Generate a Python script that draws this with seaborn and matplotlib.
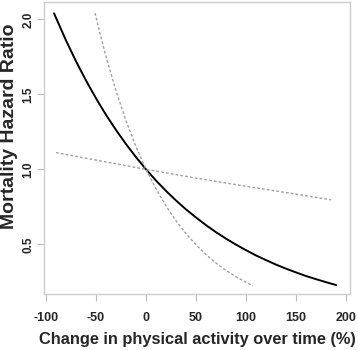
import numpy as np
import pandas as pd
import matplotlib
matplotlib.use("Agg")
import matplotlib.pyplot as plt
import seaborn as sns

# values
solid_x = [-92, -80, -70, -60, -50, -40, -30, -20, -10, 0, 10, 20, 30, 40, 50,
           60, 70, 80, 90, 100, 110, 120, 130, 140, 150, 160, 170, 180, 190]
solid_hr = [2.040, 1.859, 1.720, 1.592, 1.473, 1.363, 1.262, 1.168, 1.081, 1.000,
            0.925, 0.856, 0.792, 0.733, 0.679, 0.628, 0.581, 0.538, 0.498, 0.461,
            0.426, 0.395, 0.365, 0.338, 0.313, 0.289, 0.268, 0.248, 0.229]

steep_x = [-51, -45, -40, -30, -20, -10, 0, 10, 20, 30, 40, 50, 60, 70, 80, 90, 100, 107]
steep_hr = [2.042, 1.878, 1.751, 1.522, 1.323, 1.150, 1.000, 0.869, 0.756, 0.657,
            0.571, 0.497, 0.432, 0.375, 0.326, 0.284, 0.247, 0.224]

flat_x = [-90, -50, 0, 50, 100, 150, 185]
flat_hr = [1.112, 1.062, 1.000, 0.942, 0.887, 0.835, 0.797]

x_ticks = [-100, -50, 0, 50, 100, 150, 200]
y_ticks = [0.5, 1.0, 1.5, 2.0]

sns.set_style("white")
plt.rcParams["font.family"] = ["Liberation Sans", "DejaVu Sans"]

fig = plt.figure(figsize=(3.58, 3.50), dpi=100)
ax = fig.add_axes([0.123, 0.159, 0.855, 0.835])

sns.lineplot(x=solid_x, y=solid_hr, ax=ax, color="black", linewidth=1.4)
sns.lineplot(x=steep_x, y=steep_hr, ax=ax, color="#a0a0a0", linewidth=1.0,
             linestyle=(0, (2.0, 1.5)))
sns.lineplot(x=flat_x, y=flat_hr, ax=ax, color="#a0a0a0", linewidth=1.0,
             linestyle=(0, (2.0, 1.5)))

ax.set_xlim(-102, 204)
ax.set_ylim(0.167, 2.115)
ax.set_xticks(x_ticks)
ax.set_xticklabels([str(v) for v in x_ticks], fontweight="bold", fontsize=9)
ax.set_yticks(y_ticks)
ax.set_yticklabels([f"{v:.1f}" for v in y_ticks], fontweight="bold", fontsize=8.5,
                   rotation=90, va="center")
ax.tick_params(axis="both", direction="out", length=5, width=0.8, color="#bbbbbb",
               bottom=True, left=True)
ax.tick_params(axis="x", pad=8)
ax.tick_params(axis="y", pad=2)
for sp in ax.spines.values():
    sp.set_color("#cccccc")
    sp.set_linewidth(1.0)

ax.set_xlabel("Change in physical activity over time (%)", fontweight="bold",
              fontsize=11.8)
ax.set_ylabel("Mortality Hazard Ratio", fontweight="bold", fontsize=14)
ax.xaxis.set_label_coords(0.5, -0.156)
ax.yaxis.set_label_coords(-0.112, 0.576)
ax.xaxis.label.set_va("center")
ax.yaxis.label.set_va("center")

fig.savefig("out.png", dpi=100)
